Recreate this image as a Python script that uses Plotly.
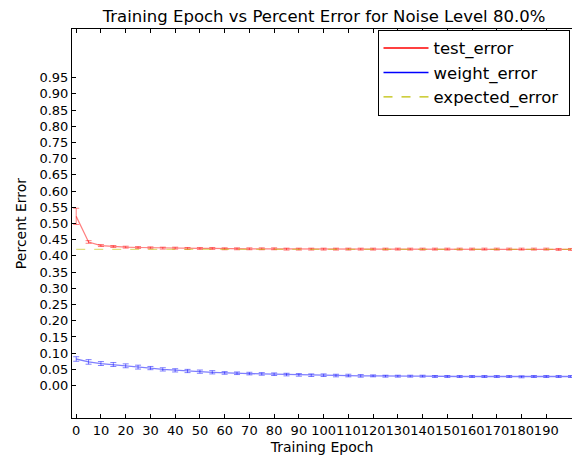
import plotly.graph_objects as go

# Training epochs sampled every 5 epochs
epochs = list(range(0, 205, 5))

test_error = [0.522, 0.443, 0.432, 0.429, 0.427, 0.426, 0.425, 0.424, 0.424, 0.423,
              0.423, 0.423, 0.422, 0.422, 0.422, 0.422, 0.422, 0.421, 0.421, 0.421,
              0.421, 0.421, 0.421, 0.421, 0.421, 0.421, 0.421, 0.421, 0.421, 0.421,
              0.421, 0.421, 0.421, 0.421, 0.421, 0.421, 0.421, 0.421, 0.421, 0.420,
              0.420]
test_std = [0.025, 0.004, 0.003, 0.003, 0.003, 0.003, 0.003, 0.003, 0.003, 0.003,
            0.003, 0.003, 0.003, 0.003, 0.003, 0.003, 0.003, 0.003, 0.003, 0.003,
            0.003, 0.003, 0.003, 0.003, 0.003, 0.003, 0.003, 0.003, 0.003, 0.003,
            0.003, 0.003, 0.003, 0.003, 0.003, 0.003, 0.003, 0.003, 0.003, 0.003,
            0.003]

weight_error = [0.082, 0.073, 0.068, 0.065, 0.061, 0.057, 0.054, 0.050, 0.047, 0.045,
                0.043, 0.041, 0.039, 0.038, 0.037, 0.036, 0.035, 0.034, 0.033, 0.032,
                0.032, 0.031, 0.031, 0.030, 0.030, 0.029, 0.029, 0.029, 0.029, 0.028,
                0.028, 0.028, 0.028, 0.028, 0.028, 0.028, 0.027, 0.028, 0.028, 0.028,
                0.028]
weight_std = [0.007, 0.007, 0.006, 0.006, 0.006, 0.006, 0.005, 0.005, 0.005, 0.005,
              0.005, 0.005, 0.004, 0.004, 0.004, 0.004, 0.004, 0.004, 0.004, 0.004,
              0.004, 0.004, 0.004, 0.004, 0.003, 0.003, 0.003, 0.003, 0.003, 0.003,
              0.003, 0.003, 0.003, 0.003, 0.003, 0.003, 0.003, 0.003, 0.003, 0.003,
              0.003]

expected_error = [0.42] * len(epochs)

y_ticks = [round(0.05 * i, 2) for i in range(20)]
x_ticks = list(range(0, 200, 10))

RED = "rgba(255,0,0,0.5)"
BLUE = "rgba(0,0,255,0.5)"
YEL = "rgba(191,191,0,0.5)"

fig = go.Figure()

fig.add_trace(go.Scatter(
    x=epochs, y=test_error, mode="lines", showlegend=False,
    line=dict(color=RED, width=1.2),
    error_y=dict(type="data", array=test_std, color=RED, thickness=1, width=3),
))
fig.add_trace(go.Scatter(
    x=epochs, y=weight_error, mode="lines", showlegend=False,
    line=dict(color=BLUE, width=1.3),
    error_y=dict(type="data", array=weight_std, color=BLUE, thickness=1, width=3),
))
fig.add_trace(go.Scatter(
    x=epochs, y=expected_error, mode="lines", showlegend=False,
    line=dict(color=YEL, width=1.2, dash="dash"),
))

# Legend entries drawn in full colour
for name, col, dash in [("test_error", "rgb(255,0,0)", "solid"),
                        ("weight_error", "rgb(0,0,255)", "solid"),
                        ("expected_error", "rgb(191,191,0)", "dash")]:
    fig.add_trace(go.Scatter(x=[None], y=[None], mode="lines",
                             name=name + "\u00a0",
                             line=dict(color=col, width=1.4, dash=dash)))

fig.update_layout(
    width=572, height=459,
    margin=dict(l=72, r=0, t=29, b=41),
    paper_bgcolor="white", plot_bgcolor="white",
    font=dict(family="DejaVu Sans", color="black"),
    title=dict(text="Training Epoch vs Percent Error for Noise Level 80.0%",
               xref="paper", x=0.504, xanchor="center",
               yref="container", y=0.965, yanchor="middle",
               font=dict(size=16.5, color="black")),
    xaxis=dict(range=[-1.7, 200.4], tickvals=x_ticks,
               ticktext=[str(t) for t in x_ticks], tickangle=0,
               showgrid=False, zeroline=False, showline=True, linecolor="black",
               linewidth=1, mirror="allticks", ticks="inside", ticklen=4,
               tickcolor="black", tickfont=dict(size=13, color="black"),
               title=dict(text="Training Epoch", font=dict(size=14), standoff=5),
               automargin=False),
    yaxis=dict(range=[-0.1, 1.1], tickvals=y_ticks,
               ticktext=[f"{t:.2f}" for t in y_ticks],
               showgrid=False, zeroline=False, showline=True, linecolor="black",
               linewidth=1, mirror=False, ticks="inside", ticklen=4,
               tickcolor="black", tickfont=dict(size=13, color="black"),
               title=dict(text="Percent Error", font=dict(size=14), standoff=9),
               automargin=False),
    legend=dict(x=0.995, xanchor="right", y=0.998, yanchor="top",
                bordercolor="black", borderwidth=1, bgcolor="white",
                font=dict(size=16.5, color="black"), itemwidth=45,
                tracegroupgap=0),
)

fig.write_html("out.html")
